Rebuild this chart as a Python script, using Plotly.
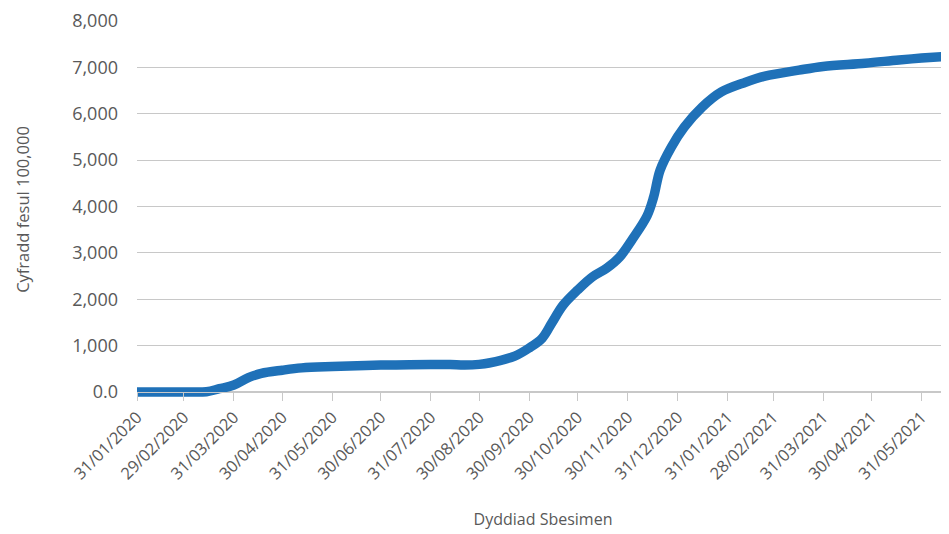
import plotly.graph_objects as go

dates = [
    "2020-01-31", "2020-02-29", "2020-03-14", "2020-03-22", "2020-03-31",
    "2020-04-09", "2020-04-17", "2020-04-30", "2020-05-12", "2020-05-31",
    "2020-06-30", "2020-07-31", "2020-08-12", "2020-08-21", "2020-08-30",
    "2020-09-05", "2020-09-21", "2020-09-30", "2020-10-08", "2020-10-14",
    "2020-10-21", "2020-10-30", "2020-11-08", "2020-11-17", "2020-11-25",
    "2020-12-03", "2020-12-12", "2020-12-16", "2020-12-20", "2020-12-27",
    "2021-01-04", "2021-01-15", "2021-01-27", "2021-02-11", "2021-02-23",
    "2021-03-16", "2021-03-31", "2021-04-26", "2021-05-17", "2021-05-31",
    "2021-06-17",
]
rates = [
    0, 0, 5, 70, 150,
    310, 400, 470, 520, 550,
    580, 595, 590, 580, 595,
    625, 775, 950, 1160, 1490,
    1875, 2200, 2480, 2670, 2910,
    3300, 3800, 4200, 4780, 5280,
    5710, 6140, 6470, 6680, 6810,
    6940, 7020, 7090, 7160, 7200,
    7240,
]

tick_dates = [
    "2020-01-31", "2020-02-29", "2020-03-31", "2020-04-30", "2020-05-31",
    "2020-06-30", "2020-07-31", "2020-08-30", "2020-09-30", "2020-10-30",
    "2020-11-30", "2020-12-31", "2021-01-31", "2021-02-28", "2021-03-31",
    "2021-04-30", "2021-05-31",
]
tick_labels = [
    "31/01/2020", "29/02/2020", "31/03/2020", "30/04/2020", "31/05/2020",
    "30/06/2020", "31/07/2020", "30/08/2020", "30/09/2020", "30/10/2020",
    "30/11/2020", "31/12/2020", "31/01/2021", "28/02/2021", "31/03/2021",
    "30/04/2021", "31/05/2021",
]
y_ticks = [0, 1000, 2000, 3000, 4000, 5000, 6000, 7000, 8000]
y_labels = ["0.0", "1,000", "2,000", "3,000", "4,000", "5,000", "6,000", "7,000", "8,000"]

FONT = "Open Sans"
GREY = "#595959"
y_min = -130
y_max = 8000

fig = go.Figure()
fig.add_trace(go.Scatter(
    x=dates, y=rates, mode="lines",
    line=dict(color="#1F71B8", width=9.5, shape="spline", smoothing=1.0),
    showlegend=False, hoverinfo="x+y",
))

fig.update_layout(
    width=941, height=526,
    margin=dict(l=129, r=0, t=13, b=135.5),
    paper_bgcolor="white", plot_bgcolor="white",
    font=dict(family=FONT, color=GREY, size=16),
    xaxis=dict(
        type="date",
        range=["2020-01-31", "2021-06-17"],
        tickmode="array", tickvals=tick_dates, ticktext=tick_labels,
        tickangle=-45, tickfont=dict(size=16.5, color=GREY),
        ticks="outside", ticklen=8, tickcolor="#C8C8C8", tickwidth=1.3,
        showline=True, linecolor="#C8C8C8", linewidth=1.3,
        showgrid=False, zeroline=False,
        anchor="free", position=(0 - y_min) / (y_max - y_min),
        title=dict(text="Dyddiad Sbesimen", font=dict(size=16, color=GREY), standoff=30),
    ),
    yaxis=dict(
        range=[y_min, y_max],
        tickmode="array", tickvals=y_ticks, ticktext=y_labels,
        tickfont=dict(size=18, color=GREY),
        showgrid=True, gridcolor="#C8C8C8", gridwidth=1.2,
        zeroline=False, showline=False, ticks="",
        ticklabelstandoff=18,
        title=dict(text="Cyfradd fesul 100,000", font=dict(size=16.5, color=GREY), standoff=38),
    ),
)

fig.write_html("out.html")
